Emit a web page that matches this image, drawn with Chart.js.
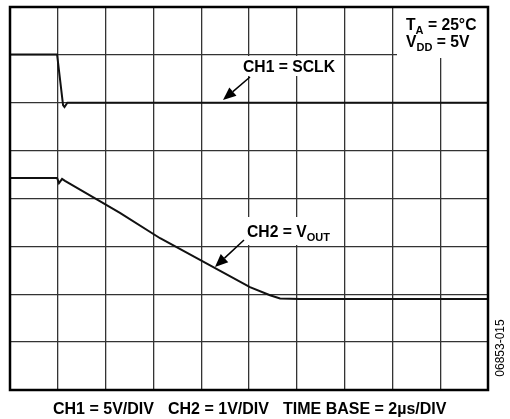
<!DOCTYPE html>
<html>
<head>
<meta charset="utf-8">
<script src="https://cdn.jsdelivr.net/npm/chart.js@4/dist/chart.umd.min.js"></script>
<style>
  body { margin: 0; background: #fff; }
  canvas { display: block; }
</style>
</head>
<body>
<canvas id="scope" width="510" height="419"></canvas>
<script>
// time in us (2us/div), level in divisions (8 div screen)
var ch1Time = [0, 1.97, 2.22, 2.28, 2.4, 5, 10, 15, 20];
var ch1Div = [7.01, 7.01, 5.95, 5.91, 6.0, 6.0, 6.0, 6.0, 6.0];

var ch2Time = [0, 1.97, 2.05, 2.18, 2.3, 3.47, 4.6, 6.28, 7.95, 10.04, 10.88, 11.3, 12.13, 20];
var ch2Div = [4.43, 4.43, 4.32, 4.41, 4.37, 4.03, 3.7, 3.17, 2.72, 2.15, 1.98, 1.91, 1.9, 1.9];

var footer = ["CH1 = 5V/DIV", "CH2 = 1V/DIV", "TIME BASE = 2\u00b5s/DIV"];

function toPoints(xs, ys) {
  return xs.map(function (x, i) { return { x: x, y: ys[i] }; });
}

var BOLD = 'bold 15.7px "Liberation Sans", Arial, sans-serif';
var SUB = 'bold 11px "Liberation Sans", Arial, sans-serif';

// text with subscript parts: [[text, isSub], ...]
function drawParts(ctx, parts, x, y) {
  parts.forEach(function (p) {
    ctx.font = p[1] ? SUB : BOLD;
    ctx.fillText(p[0], x, p[1] ? y + 4 : y);
    x += ctx.measureText(p[0]).width;
  });
}

function arrow(ctx, x0, y0, x1, y1) {
  var a = Math.atan2(y1 - y0, x1 - x0);
  var len = 13, w = 5.5;
  ctx.beginPath();
  ctx.moveTo(x0, y0);
  ctx.lineTo(x1 - Math.cos(a) * len, y1 - Math.sin(a) * len);
  ctx.lineWidth = 1.5;
  ctx.stroke();
  ctx.beginPath();
  ctx.moveTo(x1, y1);
  ctx.lineTo(x1 - Math.cos(a) * len - Math.sin(a) * w, y1 - Math.sin(a) * len + Math.cos(a) * w);
  ctx.lineTo(x1 - Math.cos(a) * len + Math.sin(a) * w, y1 - Math.sin(a) * len - Math.cos(a) * w);
  ctx.closePath();
  ctx.fill();
}

var labels = {
  id: 'labels',
  afterDraw: function (chart) {
    var ctx = chart.ctx;
    var ca = chart.chartArea;
    ctx.save();
    ctx.fillStyle = '#fff';
    // white patches behind the text
    ctx.fillRect(397, ca.top, ca.right - 397, 58 - ca.top);
    ctx.fillRect(240, 56, 99, 20);
    ctx.fillRect(244, 217, 95, 28);

    ctx.fillStyle = '#000';
    ctx.strokeStyle = '#000';
    ctx.textBaseline = 'alphabetic';
    ctx.textAlign = 'left';

    drawParts(ctx, [['T', false], ['A', true], [' = 25\u00b0C', false]], 406, 30);
    drawParts(ctx, [['V', false], ['DD', true], [' = 5V', false]], 406, 47);
    drawParts(ctx, [['CH1 = SCLK', false]], 243, 72);
    drawParts(ctx, [['CH2 = V', false], ['OUT', true]], 247, 237);

    arrow(ctx, 250, 77, 223, 100);
    arrow(ctx, 244, 240, 215, 267);

    // frame
    ctx.lineWidth = 2.5;
    ctx.strokeRect(ca.left, ca.top, ca.right - ca.left, ca.bottom - ca.top);

    // footer
    ctx.font = 'bold 16px "Liberation Sans", Arial, sans-serif';
    var fx = [53, 168, 283];
    footer.forEach(function (t, i) { ctx.fillText(t, fx[i], 414); });

    // figure id
    ctx.translate(504, 348);
    ctx.rotate(-Math.PI / 2);
    ctx.textAlign = 'center';
    ctx.font = '12px "Liberation Sans", Arial, sans-serif';
    ctx.fillText('06853-015', 0, 0);
    ctx.restore();
  }
};

var ctx = document.getElementById('scope').getContext('2d');
var chart = new Chart(ctx, {
  type: 'line',
  data: {
    datasets: [{
      label: 'CH1 = SCLK',
      data: toPoints(ch1Time, ch1Div),
      borderColor: '#111',
      borderWidth: 2,
      pointRadius: 0,
      tension: 0
    }, {
      label: 'CH2 = VOUT',
      data: toPoints(ch2Time, ch2Div),
      borderColor: '#111',
      borderWidth: 2,
      pointRadius: 0,
      tension: 0
    }]
  },
  options: {
    responsive: false,
    animation: false,
    layout: { padding: { left: 10, top: 7, right: 22, bottom: 29 } },
    plugins: { legend: { display: false }, tooltip: { enabled: false } },
    scales: {
      x: {
        type: 'linear', min: 0, max: 20,
        ticks: { display: false, stepSize: 2 },
        grid: { color: '#333', lineWidth: 1.3, drawTicks: false },
        border: { display: false }
      },
      y: {
        min: 0, max: 8,
        ticks: { display: false, stepSize: 1 },
        grid: { color: '#333', lineWidth: 1.3, drawTicks: false },
        border: { display: false }
      }
    }
  },
  plugins: [labels]
});
</script>
</body>
</html>
